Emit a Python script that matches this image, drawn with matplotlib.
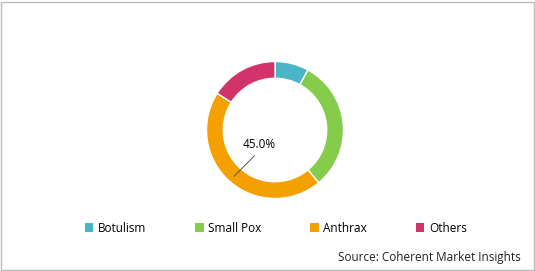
import matplotlib
matplotlib.use("Agg")
import matplotlib.pyplot as plt
from matplotlib.patches import Patch, Rectangle
import numpy as np

categories = ["Botulism", "Small Pox", "Anthrax", "Others"]
values = [8.0, 31.0, 45.0, 16.0]
colors = ["#4BB5C8", "#84CC49", "#F4A000", "#D3336B"]
label_index = 2

plt.rcParams['font.family'] = ['Open Sans', 'DejaVu Sans']

W, H = 535, 271
fig = plt.figure(figsize=(W/100, H/100), dpi=100)
cx, cy, r = 275, 130, 68.5
ax = fig.add_axes([(cx - r)/W, (H - cy - r)/H, 2*r/W, 2*r/H])

wedges, _ = ax.pie(values, colors=colors, startangle=90, counterclock=False,
                   radius=1.0, wedgeprops=dict(width=0.245, edgecolor='white', linewidth=1.0))
ax.set_xlim(-1, 1)
ax.set_ylim(-1, 1)
ax.set_aspect('equal')
ax.axis('off')

w = wedges[label_index]
ang = np.deg2rad((w.theta1 + w.theta2) / 2)
total = sum(values)
ax.annotate(f"{values[label_index]/total*100:.1f}%",
            xy=(0.9*np.cos(ang), 0.9*np.sin(ang)),
            xytext=(-0.23, -0.21), textcoords='data',
            ha='center', va='center', fontsize=8.5,
            arrowprops=dict(arrowstyle='-', color='#555555', lw=0.7,
                            relpos=(0.5, 0.0), shrinkA=2, shrinkB=0))

handles = [Patch(facecolor=c, edgecolor='none') for c in colors]
fig.legend(handles, categories, loc='center', bbox_to_anchor=(276/W, 1 - 228/H),
           ncol=4, frameon=False, fontsize=8.5, handlelength=0.7, handleheight=0.7,
           handletextpad=0.4, columnspacing=4.15)

fig.text(521/W, 1 - 258/H, "Source: Coherent Market Insights", ha='right', va='center',
         fontsize=8.5, color='#222222')

fig.patches.append(Rectangle((1.5/W, 1.5/H), (W-3)/W, (H-3)/H, transform=fig.transFigure,
                             fill=False, edgecolor='#BBBBBB', linewidth=1))

fig.savefig("out.png", dpi=100, facecolor='white')
